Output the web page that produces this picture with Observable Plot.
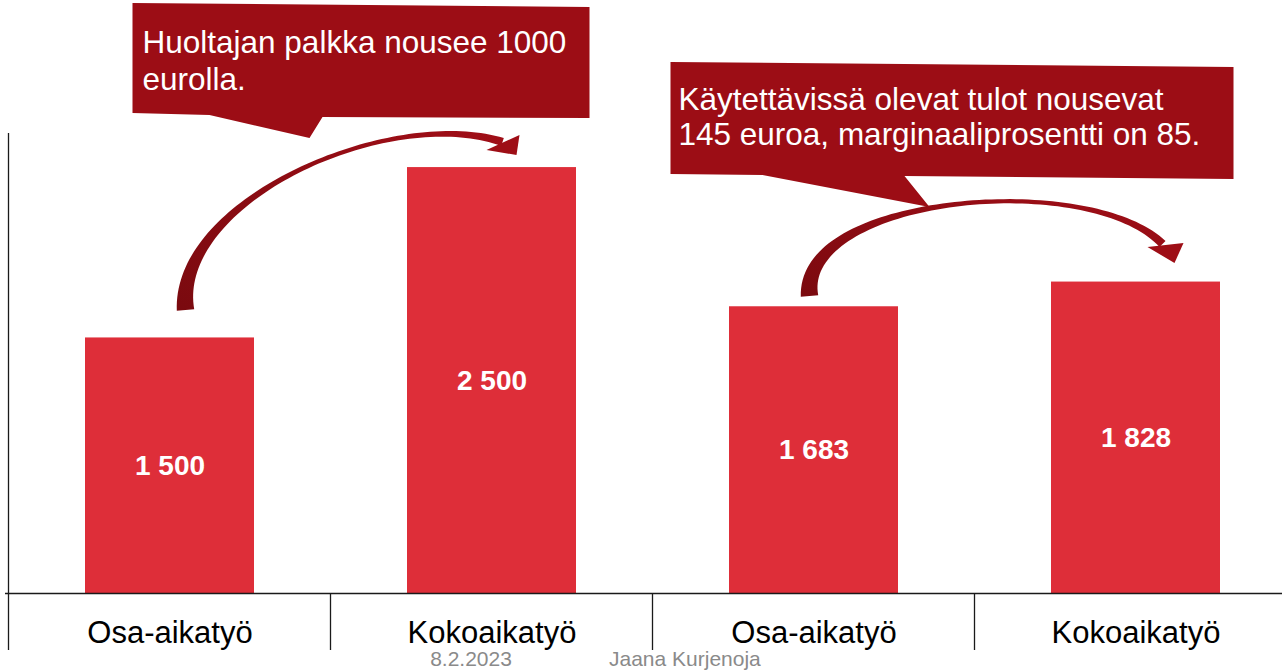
<!DOCTYPE html>
<html>
<head>
<meta charset="utf-8">
<script src="https://cdn.jsdelivr.net/npm/d3@7"></script>
<script src="https://cdn.jsdelivr.net/npm/@observablehq/plot@0.6"></script>
<style>
html, body { margin: 0; padding: 0; background: #fff; overflow: hidden; }
#wrap { position: relative; width: 1297px; height: 670px; overflow: hidden; font-family: "Liberation Sans", Arial, sans-serif; }
#wrap svg.chart { position: absolute; left: 0; top: 0; }
.foot { position: absolute; top: 649px; font-size: 21px; line-height: 20px; color: #8a8a8a; white-space: nowrap; }
</style>
</head>
<body>
<div id="wrap"></div>
<script>
// ---- data ----
const keys = ["a", "b", "c", "d"];
const categories = ["Osa-aikatyö", "Kokoaikatyö", "Osa-aikatyö", "Kokoaikatyö"];
const values = [1500, 2500, 1683, 1828];
const yMax = 2700;
const calloutTexts = [
  ["Huoltajan palkka nousee 1000", "eurolla."],
  ["Käytettävissä olevat tulot nousevat", "145 euroa, marginaaliprosentti on 85."]
];
const calloutFrom = [0, 2];
const footerDate = "8.2.2023";
const footerAuthor = "Jaana Kurjenoja";

// ---- chart ----
const data = keys.map((k, i) => ({key: k, label: categories[i], value: values[i]}));
const fmt = v => d3.format(",")(v).replace(/,/g, " ");
const FONT = "Liberation Sans, Arial, sans-serif";

const plot = Plot.plot({
  width: 1297,
  height: 650,
  marginLeft: 9,
  marginRight: 0,
  marginTop: 133,
  marginBottom: 57,
  style: {fontFamily: FONT, color: "#000", background: "transparent", maxWidth: "none", overflow: "visible"},
  x: {domain: keys, paddingInner: 0.475, paddingOuter: 0.2375, label: null},
  y: {domain: [0, yMax], axis: null},
  marks: [
    Plot.barY(data, {x: "key", y: "value", fill: "#DE2E39"}),
    Plot.text(data, {x: "key", y: d => d.value / 2, text: d => fmt(d.value), fill: "white", fontSize: 28, fontWeight: "bold"}),
    Plot.ruleY([0], {stroke: "#1a1a1a", strokeWidth: 1.3, insetLeft: -4}),
    Plot.axisX({tickSize: 0, tickPadding: 27, fontSize: 31, fill: "#000", tickFormat: k => categories[keys.indexOf(k)], label: null})
  ]
});
plot.classList.add("chart");
document.getElementById("wrap").appendChild(plot);

// ---- annotations drawn from the plot's own scales ----
const svg = d3.select(plot);
const xs = plot.scale("x"), ys = plot.scale("y");
const bw = xs.bandwidth, step = xs.step;
const gap = (step - bw) / 2;
const cx = i => xs.apply(keys[i]) + bw / 2;
const y0 = ys.apply(0), yTop = ys.apply(yMax);
const tickLen = 57;

const g = svg.append("g");
// vertical axis line
g.append("line").attr("x1", xs.apply(keys[0]) - gap).attr("x2", xs.apply(keys[0]) - gap)
  .attr("y1", yTop).attr("y2", y0 + tickLen).attr("stroke", "#1a1a1a").attr("stroke-width", 1.3);
// category separators
for (let i = 1; i <= keys.length; i++) {
  const x = xs.apply(keys[i - 1]) + bw + gap;
  g.append("line").attr("x1", x).attr("x2", x).attr("y1", y0).attr("y2", y0 + tickLen)
    .attr("stroke", "#1a1a1a").attr("stroke-width", 1.3);
}

// gradient for arrows
const defs = svg.append("defs");
const grad = defs.append("linearGradient").attr("id", "arrowGrad").attr("x1", 0).attr("y1", 1).attr("x2", 1).attr("y2", 0);
grad.append("stop").attr("offset", "0%").attr("stop-color", "#7a0a0f");
grad.append("stop").attr("offset", "100%").attr("stop-color", "#a00e17");

// shapes, as pixel offsets from (centre of the "from" bar, top of the y scale)
const shapes = [
  {
    poly: [[-37,-130],[420,-126],[420,-15],[153,-16],[140,5],[40,-18],[-37,-20]],
    tx: -27, lines: [-80, -43],
    curve: [[16,177],[5,67],[220,-28],[333,9]],
    head: [[317,17],[347,22],[350,2]]
  },
  {
    poly: [[-143,-71],[420,-66],[420,46],[91,43],[116,74],[-51,42],[-143,41]],
    tx: -135, lines: [-23, 12],
    curve: [[-4,163],[-14,62],[276,37],[349,111]],
    head: [[334,114],[361,130],[370,110]]
  }
];

function bez(p, t) {
  const u = 1 - t;
  return [0, 1].map(k => u*u*u*p[0][k] + 3*u*u*t*p[1][k] + 3*u*t*t*p[2][k] + t*t*t*p[3][k]);
}
function bezD(p, t) {
  const u = 1 - t;
  return [0, 1].map(k => 3*u*u*(p[1][k]-p[0][k]) + 6*u*t*(p[2][k]-p[1][k]) + 3*t*t*(p[3][k]-p[2][k]));
}
const widthAt = t => 2.5 + 15 * Math.pow(1 - t, 3) + 6 * Math.pow(t, 4);

const boxes = svg.append("g");
const arrows = svg.append("g");
const labels = svg.append("g").attr("text-anchor", "start");

shapes.forEach((s, i) => {
  const ax = cx(calloutFrom[i]), ay = yTop;
  const P = pts => pts.map(([dx, dy]) => [ax + dx, ay + dy]);
  // callout box
  boxes.append("polygon").attr("points", P(s.poly).map(p => p.join(",")).join(" ")).attr("fill", "#9C0D15");
  calloutTexts[i].forEach((line, j) => {
    labels.append("text").attr("x", ax + s.tx).attr("y", ay + s.lines[j]).attr("fill", "#fff")
      .attr("text-anchor", "start").attr("font-family", FONT).attr("font-size", 31.5).text(line);
  });
  // curved tapered arrow
  const c = P(s.curve);
  const L = [], R = [];
  const N = 80;
  for (let k = 0; k <= N; k++) {
    const t = k / N;
    const [x, y] = bez(c, t);
    const [dx, dy] = bezD(c, t);
    const len = Math.hypot(dx, dy) || 1;
    const nx = -dy / len, ny = dx / len, w = widthAt(t) / 2;
    L.push([x + nx * w, y + ny * w]);
    R.push([x - nx * w, y - ny * w]);
  }
  const body = "M" + L.map(p => p.join(",")).join("L") + "L" + R.reverse().map(p => p.join(",")).join("L") + "Z";
  arrows.append("path").attr("d", body).attr("fill", "url(#arrowGrad)");
  arrows.append("polygon").attr("points", P(s.head).map(p => p.join(",")).join(" ")).attr("fill", "#9E0E16");
});

// footer
const wrap = document.getElementById("wrap");
const d1 = document.createElement("span");
d1.className = "foot"; d1.textContent = footerDate;
d1.style.left = "471px"; d1.style.transform = "translateX(-50%)";
wrap.appendChild(d1);
const d2 = document.createElement("span");
d2.className = "foot"; d2.textContent = footerAuthor;
d2.style.left = "609px";
wrap.appendChild(d2);
</script>
</body>
</html>
